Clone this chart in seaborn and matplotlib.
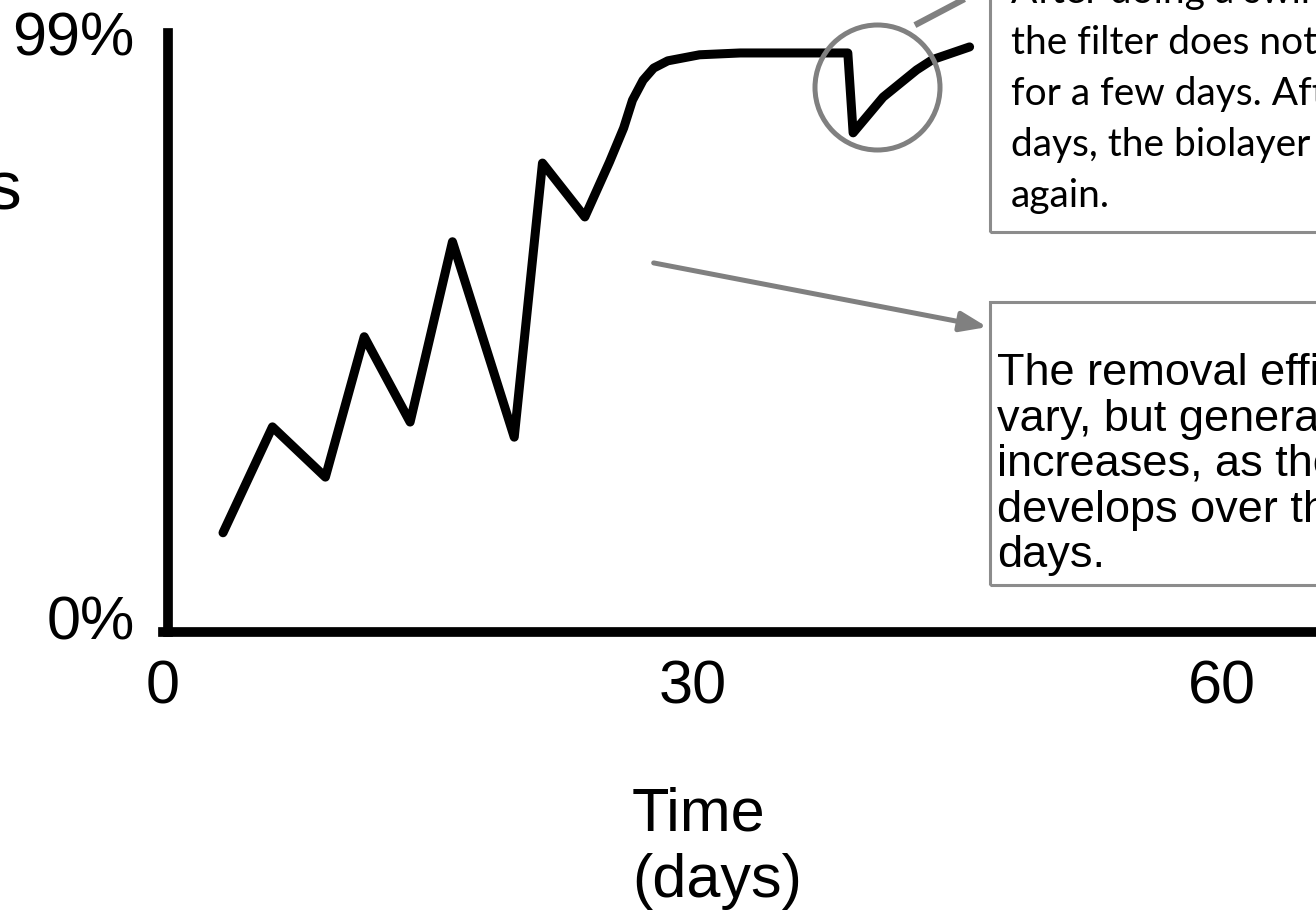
import matplotlib
matplotlib.use("Agg")
import matplotlib.pyplot as plt
import seaborn as sns
import pandas as pd
from matplotlib.patches import Rectangle
from matplotlib.transforms import ScaledTranslation

# ---- data ----
days = [3.4, 6.2, 9.2, 11.4, 14.0, 16.4, 19.9, 21.5, 23.9, 25.3, 26.1, 26.6,
        27.2, 27.8, 28.6, 30.4, 32.7, 38.8, 39.1, 40.8, 42.7, 43.6, 45.7]
removal = [16.4, 33.9, 25.6, 48.8, 34.7, 64.5, 32.2, 77.5, 68.6, 77.7, 83.3, 87.9,
           91.2, 93.2, 94.4, 95.4, 95.7, 95.7, 82.5, 88.4, 92.9, 94.6, 96.7]
x_ticks = [0, 30, 60]
x_tick_labels = ["0", "30", "60"]
y_ticks = [0, 99]
y_tick_labels = ["0%", "99%"]
x_label = "Time\n(days)"
y_label_visible = "s"
box1_lines = ["After doing a swirl & dump,",
              "the filter does not work well",
              "for a few days. After a few",
              "days, the biolayer grows",
              "again."]
box2_lines = ["The removal efficiency may",
              "vary, but generally",
              "increases, as the biolayer",
              "develops over the first 30",
              "days."]
circle_center = (40.45, 90.1)      # highlighted dip (day, %)
circle_leader = [(42.6, 100.3), (48.0, 108.6)]
arrow_start = (27.8, 61.0)
arrow_end = (46.7, 50.4)

W, H = 1316, 921
GREY = "#808080"
BOX_GREY = "#8c8c8c"

sns.set_style("white")
plt.rcParams["font.family"] = ["Liberation Sans", "DejaVu Sans"]
plt.rcParams["text.color"] = "black"

fig = plt.figure(figsize=(W / 100, H / 100), dpi=100)
fig.patch.set_facecolor("white")

ax_left, ax_bottom_px, ax_top_px = 163, 632, 33
ax = fig.add_axes([ax_left / W, 1 - ax_bottom_px / H,
                   1 - ax_left / W, (ax_bottom_px - ax_top_px) / H])
ax.set_facecolor("white")

df = pd.DataFrame({"day": days, "removal": removal})
sns.lineplot(data=df, x="day", y="removal", sort=False, ax=ax,
             color="black", linewidth=6.5, solid_capstyle="round",
             solid_joinstyle="round", clip_on=False)

ax.set_xlim(0, (W - ax_left) / 17.65)
ax.set_ylim(0, 99)

for side in ["top", "right"]:
    ax.spines[side].set_visible(False)
for side in ["left", "bottom"]:
    ax.spines[side].set_color("black")
    ax.spines[side].set_linewidth(7)
ax.spines["left"].set_position(("data", 0.28))
ax.spines["left"].set_capstyle("projecting")

ax.set_xticks(x_ticks)
ax.set_xticklabels(x_tick_labels)
ax.set_yticks(y_ticks)
ax.set_yticklabels(y_tick_labels)
ax.tick_params(length=0, labelsize=44, colors="black")
ax.tick_params(axis="x", pad=20)
ax.tick_params(axis="y", pad=24)
ax.set_xlabel("")
ax.set_ylabel("")
# lift the "0%" label slightly above the axis line as in the reference
lbl0 = ax.get_yticklabels()[0]
lbl0.set_transform(lbl0.get_transform() + ScaledTranslation(0, 0.14, fig.dpi_scale_trans))

# x axis title
fig.text(632 / W, 1 - 786 / H, x_label, ha="left", va="top",
         multialignment="left", fontsize=44, linespacing=1.22, color="black")
# cut-off y axis title (only the last letter is inside the picture)
fig.text(21 / W, 1 - 210 / H, y_label_visible, ha="right", va="baseline",
         fontsize=50, color="black")

# circle around the dip and its leader line
ax.plot([circle_center[0]], [circle_center[1]], marker="o", markersize=90,
        markerfacecolor="none", markeredgecolor=GREY, markeredgewidth=3.6,
        clip_on=False)
ax.plot([p[0] for p in circle_leader], [p[1] for p in circle_leader],
        color=GREY, linewidth=4.5, clip_on=False, solid_capstyle="butt")

# arrow to the lower box
ax.annotate("", xy=arrow_end, xytext=arrow_start,
            arrowprops=dict(arrowstyle="-|>,head_length=1.6,head_width=0.6",
                            color=GREY, lw=3.6, shrinkA=0, shrinkB=0))

# upper text box
fig.add_artist(Rectangle((990 / W, 1 - 232 / H), 600 / W, 400 / H,
                         transform=fig.transFigure, fill=False,
                         edgecolor=BOX_GREY, linewidth=2.2, clip_on=False))
for i, line in enumerate(box1_lines):
    fig.text(1011 / W, 1 - (3 + i * 51) / H, line, ha="left", va="baseline",
             fontsize=28, family=["Lato", "DejaVu Sans"], color="black")

# lower text box
fig.add_artist(Rectangle((990 / W, 1 - 585 / H), 600 / W, (585 - 302) / H,
                         transform=fig.transFigure, fill=False,
                         edgecolor=BOX_GREY, linewidth=2.2, clip_on=False))
for i, line in enumerate(box2_lines):
    fig.text(997 / W, 1 - (385 + i * 45.5) / H, line, ha="left", va="baseline",
             fontsize=32.5, color="black")

fig.savefig("out.png", dpi=100)
